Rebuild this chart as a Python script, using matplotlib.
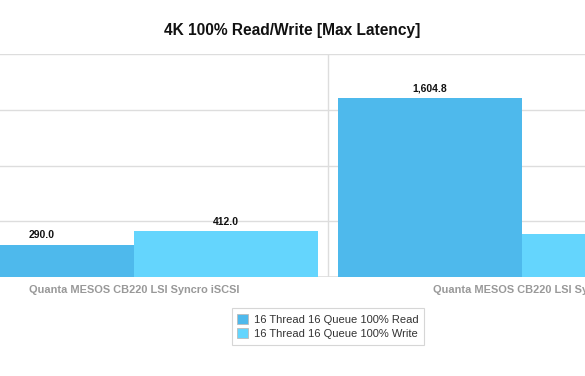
import matplotlib
matplotlib.use("Agg")
import matplotlib.pyplot as plt
import numpy as np

plt.rcParams['font.family'] = ['Liberation Sans', 'DejaVu Sans']

categories = ["Quanta MESOS CB220 LSI Syncro iSCSI", "Quanta MESOS CB220 LSI Syncro"]
series_names = ["16 Thread 16 Queue 100% Read", "16 Thread 16 Queue 100% Write"]
read_vals = [290.0, 1604.8]
write_vals = [412.0, 390.0]
colors = ["#4EB9EC", "#64D5FD"]

fig = plt.figure(figsize=(5.85, 3.76), dpi=100)
W, H = 585, 376
ax = fig.add_axes([-60 / W, 1 - 277 / H, 776 / W, (277 - 54.3) / H])

x = np.arange(len(categories))
bw = 0.474
ax.bar(x - bw / 2, read_vals, bw, color=colors[0], label=series_names[0], zorder=3)
ax.bar(x + bw / 2, write_vals, bw, color=colors[1], label=series_names[1], zorder=3)

for xi, v in zip(x - bw / 2, read_vals):
    ax.text(xi, v + 40, f"{v:,.1f}", ha='center', va='bottom', fontsize=7.5,
            fontweight='bold', color='#111111', zorder=4)
for xi, v in zip(x + bw / 2, write_vals):
    ax.text(xi, v + 40, f"{v:,.1f}", ha='center', va='bottom', fontsize=7.5,
            fontweight='bold', color='#111111', zorder=4)

ax.set_xlim(-0.5, 1.5)
ax.set_ylim(0, 2000)
ax.set_yticks([500, 1000, 1500, 2000])
ax.yaxis.grid(True, color='#dddddd', linewidth=1, zorder=0)
ax.axvline(0.5, color='#dddddd', linewidth=1, zorder=1)
ax.axhline(0, color='#dddddd', linewidth=1.2, zorder=2)
for s in ax.spines.values():
    s.set_visible(False)
ax.tick_params(left=False, bottom=False, labelleft=False)
ax.set_xticks(x)
ax.set_xticklabels(categories, fontsize=7.9, fontweight='bold', color='#999999')
ax.tick_params(axis='x', pad=2)

fig.text(0.5, 1 - 30.5 / H, "4K 100% Read/Write [Max Latency]", ha='center', va='center',
         fontsize=11.2, fontweight='bold', color='#111111')

leg = fig.legend(loc='center', bbox_to_anchor=(328 / W, 1 - 326.5 / H), fontsize=8,
                 frameon=True, fancybox=False, edgecolor='#cccccc', handlelength=1.0,
                 handleheight=1.0, handletextpad=0.5, borderpad=0.5, labelspacing=0.35,
                 labelcolor='#333333')
for p in leg.get_patches():
    p.set_edgecolor('#bbbbbb')
    p.set_linewidth(0.6)
leg.get_frame().set_linewidth(0.8)

fig.savefig("out.png", dpi=100)
